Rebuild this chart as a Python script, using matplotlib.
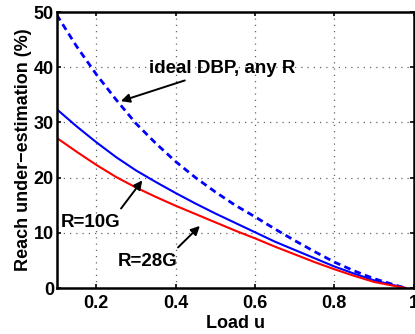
import matplotlib
matplotlib.use('Agg')
import matplotlib.pyplot as plt

# values
load = [0.1, 0.15, 0.2, 0.25, 0.3, 0.35, 0.4, 0.45, 0.5, 0.55,
        0.6, 0.65, 0.7, 0.75, 0.8, 0.85, 0.9, 0.95, 0.98]
ideal_dbp = [49.5, 43.8, 38.7, 34.1, 29.8, 26.2, 22.9, 20.0, 17.4, 15.0,
             12.9, 10.7, 8.6, 6.6, 4.7, 3.1, 1.7, 0.6, 0.0]
r10g = [32.4, 29.3, 26.4, 23.7, 21.3, 19.2, 17.2, 15.3, 13.5, 11.8,
        10.1, 8.4, 6.9, 5.4, 3.9, 2.6, 1.4, 0.5, 0.0]
r28g = [27.2, 24.7, 22.3, 20.1, 18.2, 16.5, 14.9, 13.4, 11.9, 10.4,
        9.0, 7.5, 6.1, 4.7, 3.4, 2.2, 1.1, 0.4, 0.0]

xticks = [0.2, 0.4, 0.6, 0.8, 1]
yticks = [0, 10, 20, 30, 40, 50]

plt.rcParams['font.family'] = ['Liberation Sans', 'DejaVu Sans']
plt.rcParams['font.weight'] = 'bold'

fig = plt.figure(figsize=(4.15, 3.34), dpi=100)
ax = fig.add_axes([0.1366, 0.1377, 0.8602, 0.8263])

ax.plot(load, ideal_dbp, color='#0000ff', lw=2.0, ls=(0, (2.4, 1.6)))
ax.plot(load, r10g, color='#0000ff', lw=1.5)
ax.plot(load, r28g, color='#ff0000', lw=1.5)

ax.set_xlim(0.1, 1.0)
ax.set_ylim(0, 50)
ax.set_xticks(xticks)
ax.set_xticklabels(['0.2', '0.4', '0.6', '0.8', '1'])
ax.set_yticks(yticks)
ax.tick_params(direction='in', top=True, right=True, labelsize=13, length=3, width=1.2)
ax.tick_params(axis='y', pad=2)
ax.tick_params(axis='x', pad=5)
for lab in ax.get_xticklabels() + ax.get_yticklabels():
    lab.set_fontweight('bold')
ax.grid(True, ls=(0, (1, 4)), color='#666666', lw=0.9)
for s in ax.spines.values():
    s.set_linewidth(1.8)

ax.set_xlabel('Load u', fontsize=13, fontweight='bold', labelpad=2)
ax.set_ylabel('Reach under\u2212estimation (%)', fontsize=13, fontweight='bold', labelpad=1)

arrow = dict(arrowstyle='-|>', color='black', lw=1.4, mutation_scale=13)
ax.annotate('ideal DBP, any R', xy=(0.255, 33.7), xytext=(0.333, 39.8),
            fontsize=13.5, fontweight='bold', va='center', ha='left',
            arrowprops=arrow)
ax.annotate('', xy=(0.320, 19.9), xytext=(0.258, 14.0), arrowprops=arrow)
ax.text(0.110, 11.8, 'R=10G', fontsize=13.5, fontweight='bold', va='center', ha='left')
ax.annotate('', xy=(0.466, 11.6), xytext=(0.401, 7.0), arrowprops=arrow)
ax.text(0.253, 4.8, 'R=28G', fontsize=13.5, fontweight='bold', va='center', ha='left')

fig.savefig('out.png', dpi=100)
